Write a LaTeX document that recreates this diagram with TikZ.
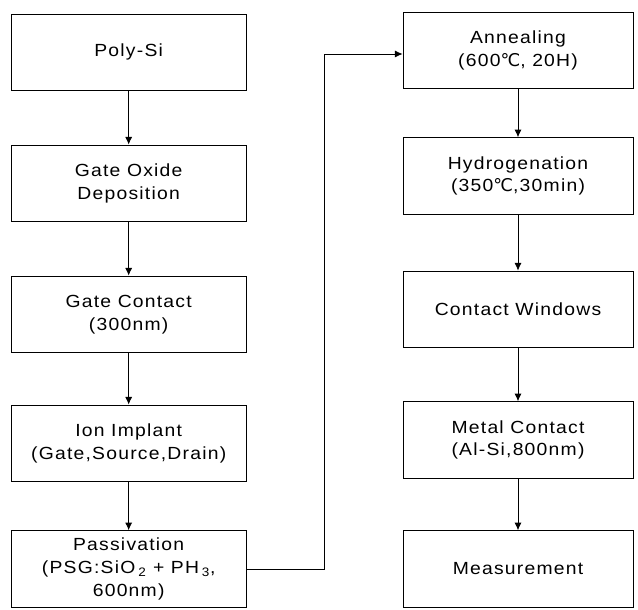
\documentclass[tikz,border=0pt]{standalone}
\usepackage{fontspec}
\setmainfont{Liberation Sans}[FakeStretch=1.1,LetterSpace=7]
\newfontfamily\degfont{DejaVu Sans}
\usetikzlibrary{arrows.meta}
\newcommand{\degC}{{\degfont ℃}}
\begin{document}
\begin{tikzpicture}[
    stepbox/.style={draw,line width=0.7pt,minimum height=2.3cm,align=center,
      font=\fontsize{15}{19.5}\selectfont},
    lbox/.style={stepbox,minimum width=7.05cm},
    rbox/.style={stepbox,minimum width=6.9cm},
    arr/.style={line width=0.7pt,-{Latex[length=6.5pt,width=6pt]}}]
  \useasboundingbox (0,0) rectangle (19.14,18.27);
  % left column
  \node[lbox] (poly)   at (3.86,16.70) {Poly-Si};
  \node[lbox] (oxide)  at (3.86,12.77) {Gate Oxide\\Deposition};
  \node[lbox] (gate)   at (3.86,8.84)  {Gate Contact\\(300nm)};
  \node[lbox] (ion)    at (3.86,4.97)  {Ion Implant\\(Gate,Source,Drain)};
  \node[lbox] (pass)   at (3.86,1.20)  {Passivation\\(PSG:SiO\,\textsubscript{2} + PH\,\textsubscript{3},\\600nm)};
  % right column
  \node[rbox] (anneal) at (15.54,16.76) {Annealing\\(600\degC, 20H)};
  \node[rbox] (hydro)  at (15.54,12.99) {Hydrogenation\\(350\degC,30min)};
  \node[rbox] (window) at (15.54,8.99)  {Contact Windows};
  \node[rbox] (metal)  at (15.54,5.07)  {Metal Contact\\(Al-Si,800nm)};
  \node[rbox] (meas)   at (15.54,1.20)  {Measurement};
  % flow
  \foreach \a/\b in {poly/oxide,oxide/gate,gate/ion,ion/pass,
                     anneal/hydro,hydro/window,window/metal,metal/meas}
    \draw[arr] (\a) -- (\b);
  \coordinate (bend) at (9.72,16.65);
  \draw[arr] (pass.east) -| (bend) -- (bend -| anneal.west);
\end{tikzpicture}
\end{document}
